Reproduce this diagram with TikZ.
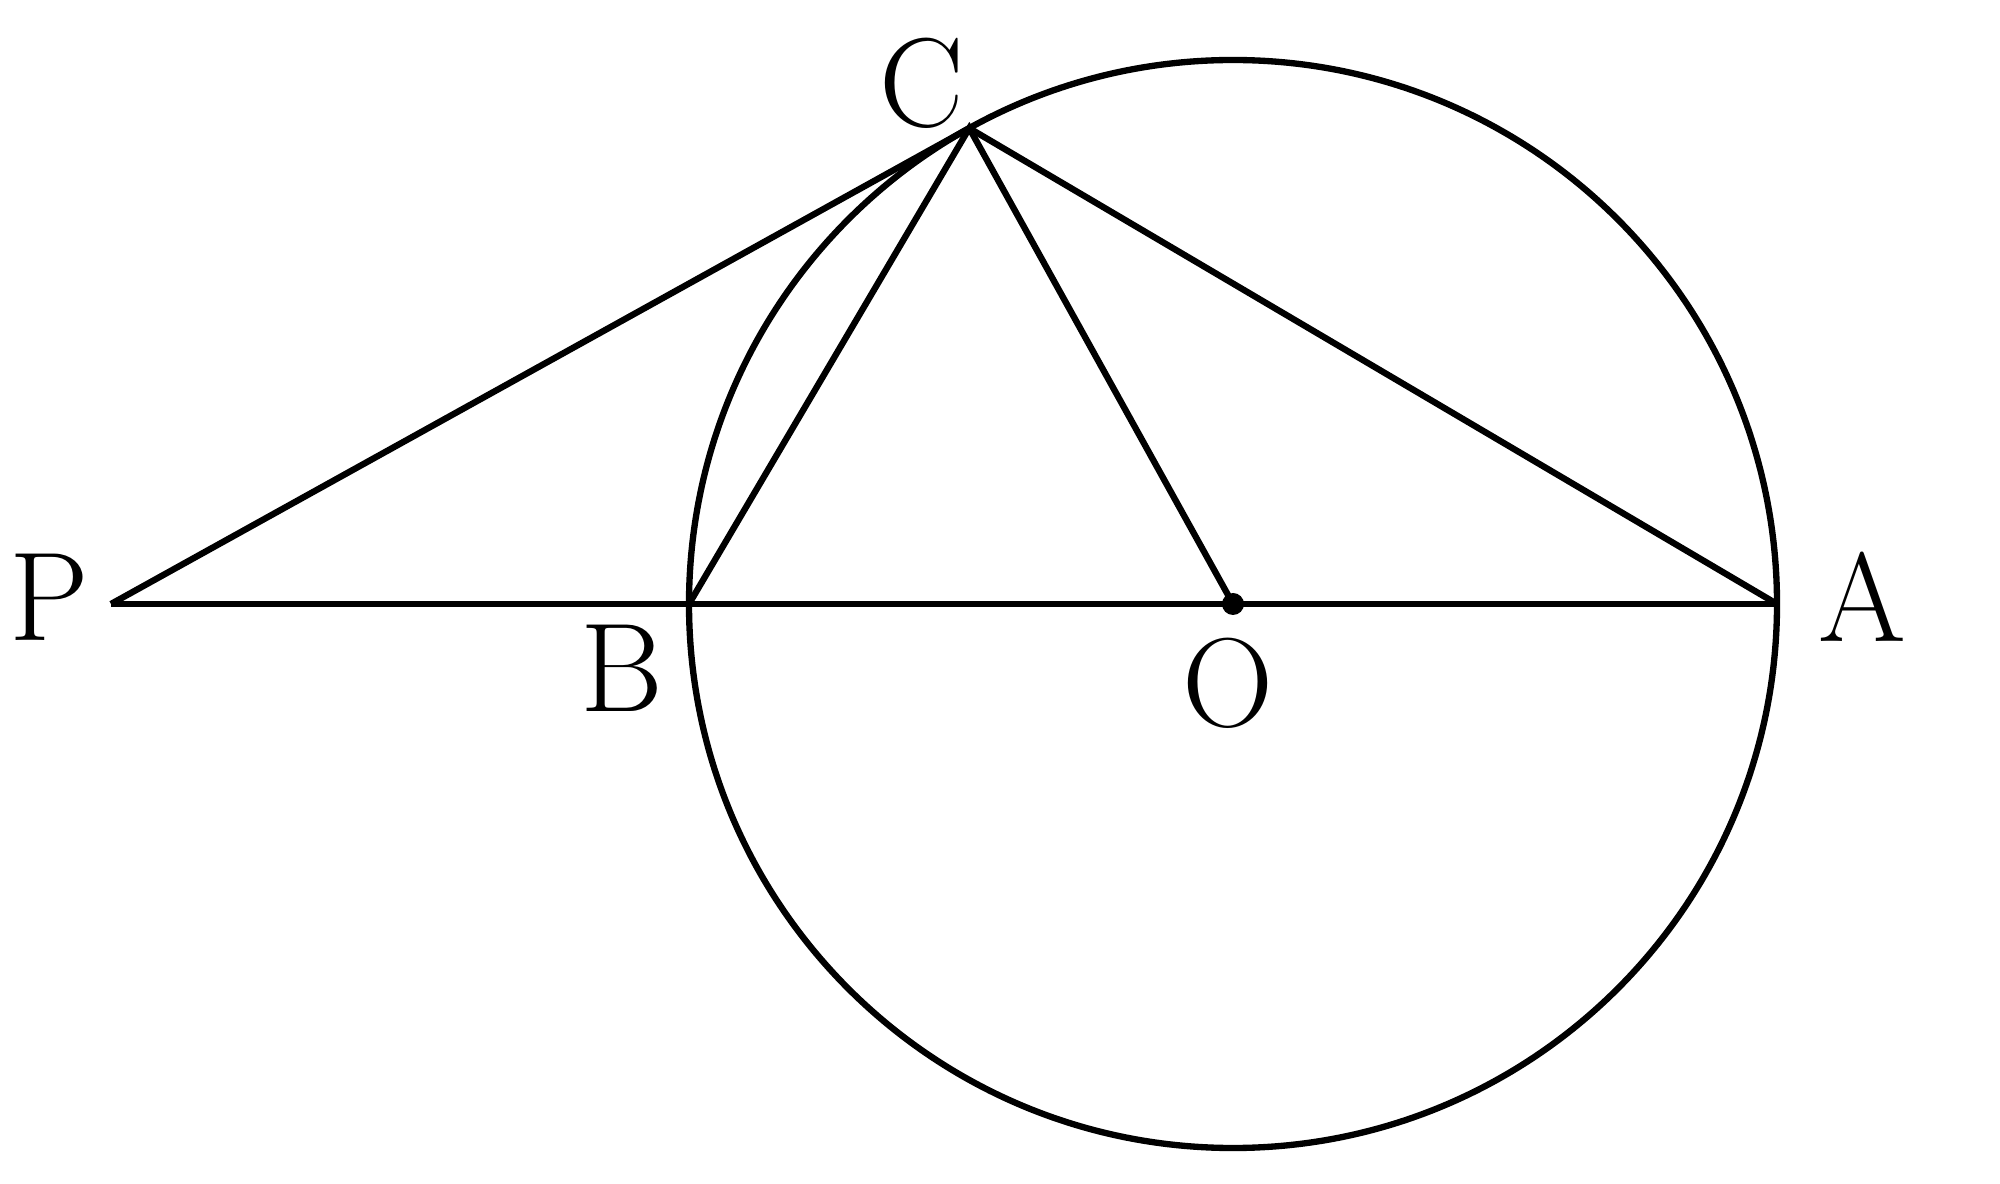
\documentclass[tikz,border=0pt]{standalone}
\begin{document}
\begin{tikzpicture}[line width=1.8pt, font=\fontsize{36}{36}\selectfont]
\useasboundingbox (0,0) rectangle (20,11.83);
\coordinate (O) at (12.33,5.79);
\coordinate (A) at (17.77,5.79);
\coordinate (B) at (6.89,5.79);
\coordinate (P) at (1.11,5.79);
\path (O) ++(119:5.44) coordinate (C);
\draw (O) circle (5.44);
\draw (P) -- (A);
\draw (P) -- (C) -- (A);
\draw (B) -- (C) -- (O);
\fill (O) circle (0.11);
\node (lP) at (0.49,5.86) {P};
\node (lC) at (9.22,11.0) {C};
\node (lB) at (6.22,5.15) {B};
\node (lO) at (12.28,5.0) {O};
\node (lA) at (18.62,5.86) {A};
\end{tikzpicture}
\end{document}
